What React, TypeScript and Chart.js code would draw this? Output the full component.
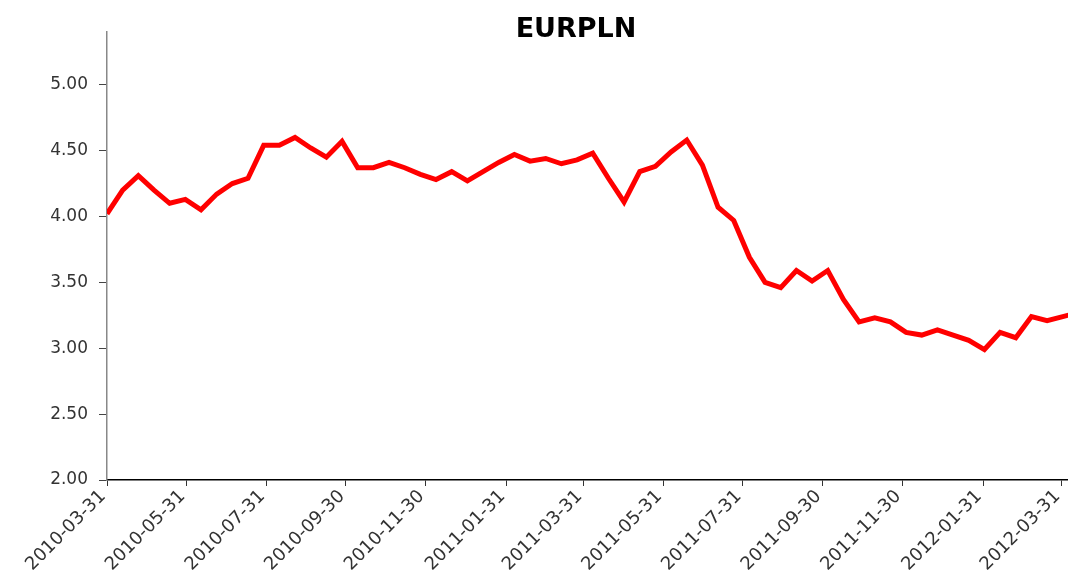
import React, { useEffect, useRef } from 'react';
import { Chart, registerables } from 'chart.js';

Chart.register(...registerables);

const TITLE = 'EURPLN';
const START_DATE = '2010-03-31';
const END_DATE = '2012-04-05';
const STEP_DAYS = 12;

// EURPLN rate, one sample every STEP_DAYS days from START_DATE
const rates = [
  4.02, 4.2, 4.31, 4.2, 4.1, 4.13, 4.05, 4.17, 4.25, 4.29,
  4.54, 4.54, 4.6, 4.52, 4.45, 4.57, 4.37, 4.37, 4.41, 4.37,
  4.32, 4.28, 4.34, 4.27, 4.34, 4.41, 4.47, 4.42, 4.44, 4.4,
  4.43, 4.48, 4.29, 4.11, 4.34, 4.38, 4.49, 4.58, 4.39, 4.07,
  3.97, 3.69, 3.5, 3.46, 3.59, 3.51, 3.59, 3.37, 3.2, 3.23,
  3.2, 3.12, 3.1, 3.14, 3.1, 3.06, 2.99, 3.12, 3.08, 3.24,
  3.21, 3.24, 3.27,
];

const tickLabels = [
  '2010-03-31', '2010-05-31', '2010-07-31', '2010-09-30', '2010-11-30',
  '2011-01-31', '2011-03-31', '2011-05-31', '2011-07-31', '2011-09-30',
  '2011-11-30', '2012-01-31', '2012-03-31',
];

const yTickValues = [2.0, 2.5, 3.0, 3.5, 4.0, 4.5, 5.0];
const Y_MIN = 2.0;
const Y_MAX = 5.4;

const dayOffset = (s: string) => (Date.parse(s) - Date.parse(START_DATE)) / 86400000;

const titlePlugin = {
  id: 'customTitle',
  afterDraw(chart: any) {
    const ctx = chart.ctx;
    ctx.save();
    ctx.font = 'bold 27px "DejaVu Sans"';
    ctx.fillStyle = '#000000';
    ctx.textAlign = 'center';
    ctx.textBaseline = 'alphabetic';
    ctx.fillText(TITLE, 576, 37);
    ctx.restore();
  },
};

export default function App() {
  const ref = useRef<HTMLCanvasElement | null>(null);

  useEffect(() => {
    if (!ref.current) return;
    const data = rates.map((v, i) => ({ x: i * STEP_DAYS, y: v }));
    const chart = new Chart(ref.current, {
      type: 'line',
      data: {
        datasets: [
          {
            label: TITLE,
            data,
            borderColor: '#ff0000',
            backgroundColor: '#ff0000',
            borderWidth: 5,
            pointRadius: 0,
            tension: 0,
            fill: false,
          },
        ],
      },
      options: {
        animation: false,
        responsive: false,
        maintainAspectRatio: false,
        devicePixelRatio: 1,
        layout: { padding: { top: 32, right: 0, left: 0, bottom: 0 } },
        plugins: {
          legend: { display: false },
          tooltip: { enabled: false },
          title: { display: false },
        },
        scales: {
          x: {
            type: 'linear',
            min: 0,
            max: dayOffset(END_DATE),
            afterBuildTicks: (scale: any) => {
              scale.ticks = tickLabels.map((l) => ({ value: dayOffset(l) }));
            },
            afterFit: (scale: any) => {
              scale.height = 90;
              scale.paddingLeft = 0;
              scale.paddingRight = 0;
            },
            ticks: {
              autoSkip: false,
              minRotation: 45,
              maxRotation: 45,
              padding: 0,
              labelOffset: -4,
              color: '#333333',
              font: { family: '"DejaVu Sans"', size: 18 },
              callback: (v: any) => {
                const l = tickLabels.find((t) => Math.abs(dayOffset(t) - v) < 0.5);
                return l ?? '';
              },
            },
            grid: {
              display: true,
              drawOnChartArea: false,
              drawTicks: true,
              tickLength: 6,
              color: '#333333',
            },
            border: { display: true, color: '#000000', width: 1.5 },
          },
          y: {
            type: 'linear',
            min: Y_MIN,
            max: Y_MAX,
            afterBuildTicks: (scale: any) => {
              scale.ticks = yTickValues.map((v) => ({ value: v }));
            },
            afterFit: (scale: any) => {
              scale.width = 107;
            },
            ticks: {
              padding: 11,
              color: '#333333',
              font: { family: '"DejaVu Sans"', size: 17 },
              callback: (v: any) => Number(v).toFixed(2),
            },
            grid: {
              display: true,
              drawOnChartArea: false,
              drawTicks: true,
              tickLength: 8,
              color: '#444444',
            },
            border: { display: true, color: '#888888', width: 1.5 },
          },
        },
      },
      plugins: [titlePlugin],
    });
    return () => chart.destroy();
  }, []);

  return (
    <div style={{ position: 'fixed', left: 0, top: 0, width: 1068, height: 570, background: '#ffffff' }}>
      <canvas ref={ref} width={1068} height={570} style={{ display: 'block' }} />
    </div>
  );
}
